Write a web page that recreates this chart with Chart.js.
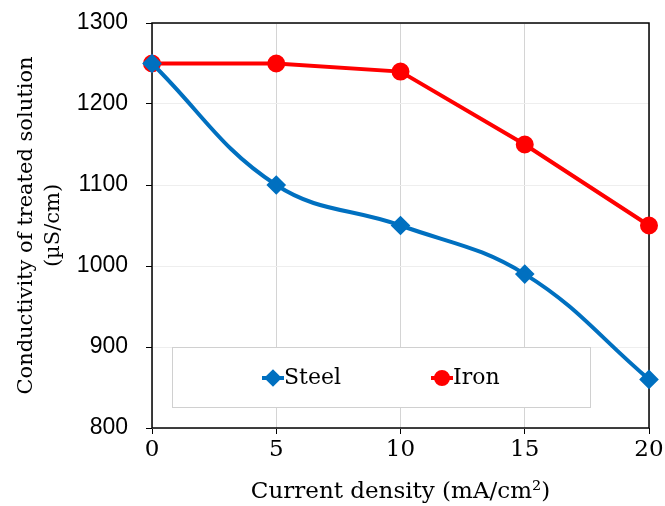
<!DOCTYPE html>
<html>
<head>
<meta charset="utf-8">
<script src="https://cdn.jsdelivr.net/npm/chart.js@4"></script>
<style>
  body { margin: 0; background: #fff; }
  #wrap { width: 665px; height: 506px; }
</style>
</head>
<body>
<div id="wrap"><canvas id="conductivityChart" width="665" height="506"></canvas></div>
<script>
// data
const currentDensity = [0, 5, 10, 15, 20];
const steelValues = [1250, 1100, 1050, 990, 860];
const ironValues = [1250, 1250, 1240, 1150, 1050];
const yTicks = [800, 900, 1000, 1100, 1200, 1300];
const xTicks = [0, 5, 10, 15, 20];

const serif = "'DejaVu Serif', 'Liberation Serif', serif";
const sans = "'Liberation Sans', Arial, sans-serif";

// black frame round the plot area
const framePlugin = {
    id: 'frame',
    beforeDatasetsDraw(chart) {
        const { ctx, chartArea: a } = chart;
        ctx.save();
        ctx.strokeStyle = '#000';
        ctx.lineWidth = 1.5;
        ctx.strokeRect(a.left, a.top, a.right - a.left, a.bottom - a.top);
        ctx.restore();
    }
};

// legend sits in a boxed panel inside the plot
const legendBoxPlugin = {
    id: 'legendBox',
    afterDatasetsDraw(chart) {
        const { ctx, chartArea: a } = chart;
        const x0 = a.left + 20, y0 = a.top + 324;
        const w = 418, h = 60;
        ctx.save();
        ctx.fillStyle = '#fff';
        ctx.fillRect(x0, y0, w, h);
        ctx.strokeStyle = '#d0d0d0';
        ctx.lineWidth = 1;
        ctx.strokeRect(x0 + 0.5, y0 + 0.5, w, h);
        const cy = y0 + 31;
        const items = [
            { ds: chart.data.datasets[0], cx: x0 + 101 },
            { ds: chart.data.datasets[1], cx: x0 + 270 }
        ];
        items.forEach(it => {
            ctx.strokeStyle = it.ds.borderColor;
            ctx.lineWidth = 4;
            ctx.beginPath();
            ctx.moveTo(it.cx - 11, cy);
            ctx.lineTo(it.cx + 11, cy);
            ctx.stroke();
            Chart.helpers.drawPoint(ctx, {
                pointStyle: it.ds.pointStyle,
                radius: 6,
                borderWidth: 1
            }, it.cx, cy);
            ctx.fillStyle = it.ds.pointBackgroundColor;
            ctx.fill();
            ctx.fillStyle = '#000';
            ctx.font = '22px ' + serif;
            ctx.textBaseline = 'middle';
            ctx.textAlign = 'left';
            ctx.fillText(it.ds.label, it.cx + 11, cy);
        });
        ctx.restore();
    }
};

const ctx = document.getElementById('conductivityChart').getContext('2d');
new Chart(ctx, {
    type: 'line',
    data: {
        datasets: [
            {
                label: 'Steel',
                data: currentDensity.map((x, i) => ({ x: x, y: steelValues[i] })),
                borderColor: '#0070C0',
                backgroundColor: '#0070C0',
                pointBackgroundColor: '#0070C0',
                pointBorderColor: '#0070C0',
                pointStyle: 'rectRot',
                pointRadius: 7,
                borderWidth: 4,
                tension: 0.4,
                clip: false
            },
            {
                label: 'Iron',
                data: currentDensity.map((x, i) => ({ x: x, y: ironValues[i] })),
                borderColor: '#FF0000',
                backgroundColor: '#FF0000',
                pointBackgroundColor: '#FF0000',
                pointBorderColor: '#FF0000',
                pointStyle: 'circle',
                pointRadius: 7,
                borderWidth: 4,
                tension: 0,
                clip: false
            }
        ]
    },
    options: {
        responsive: false,
        animation: false,
        layout: { padding: { top: 23, right: 16, left: 0, bottom: 0 } },
        plugins: {
            legend: { display: false },
            tooltip: { enabled: false }
        },
        scales: {
            x: {
                type: 'linear',
                min: 0,
                max: 20,
                afterBuildTicks: scale => { scale.ticks = xTicks.map(v => ({ value: v })); },
                afterFit: scale => {
                    scale.height = 78;
                    scale.paddingLeft = 0;
                    scale.paddingRight = 0;
                },
                ticks: {
                    color: '#000',
                    font: { family: serif, size: 23 },
                    padding: 2,
                    maxRotation: 0
                },
                grid: {
                    color: '#d4d4d4',
                    tickColor: '#000',
                    tickLength: 6
                },
                border: { display: false },
                title: {
                    display: true,
                    text: 'Current density (mA/cm²)',
                    color: '#000',
                    font: { family: serif, size: 23 },
                    padding: { top: 2, bottom: 0 }
                }
            },
            y: {
                min: 800,
                max: 1300,
                afterBuildTicks: scale => { scale.ticks = yTicks.map(v => ({ value: v })); },
                afterFit: scale => {
                    scale.width = 152;
                    scale.paddingTop = 0;
                    scale.paddingBottom = 0;
                },
                ticks: {
                    color: '#000',
                    font: { family: sans, size: 23 },
                    padding: 18,
                    callback: v => String(v)
                },
                grid: {
                    color: '#eeeeee',
                    tickColor: '#000',
                    tickLength: 6
                },
                border: { display: false },
                title: {
                    display: true,
                    text: ['Conductivity of treated solution', '(µS/cm)'],
                    color: '#000',
                    font: { family: serif, size: 21, lineHeight: 1.3 },
                    padding: { top: 13, bottom: 0 }
                }
            }
        }
    },
    plugins: [framePlugin, legendBoxPlugin]
});
</script>
</body>
</html>
